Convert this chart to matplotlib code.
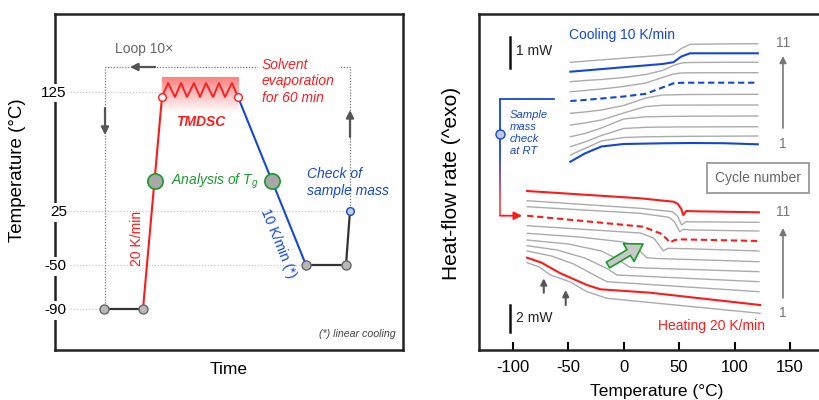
import numpy as np
import matplotlib.pyplot as plt
from matplotlib.collections import LineCollection

plt.rcParams['font.family'] = ['Liberation Sans', 'DejaVu Sans']
plt.rcParams['mathtext.fontset'] = 'custom'
plt.rcParams['mathtext.it'] = 'Liberation Sans:italic'
plt.rcParams['mathtext.rm'] = 'Liberation Sans'
plt.rcParams['axes.unicode_minus'] = False

RED = '#ff1a1a'
BLUE = '#1446dc'
GREEN = '#1a9a2a'
GRAY = '#ababab'
DARK = '#555555'

# ---------------- left panel: temperature programme (schematic units) ----------------
temp_labels = ['125', '25', '-50', '-90']
level_pos = [25.83, 13.9, 8.5, 4.1]
grid_end = [10.7, 29.5, 25.1, 4.9]

hold_low_t = [4.9, 8.8]
hold_low_h = [4.1, 4.1]
heat_t = [8.8, 10.7]
heat_h = [4.1, 25.3]
zig_t = [10.7, 11.3, 12.0, 12.6, 13.2, 13.9, 14.5, 15.1, 15.8, 16.4, 17.0, 17.7, 18.3]
zig_h = [25.3, 26.7, 25.3, 26.7, 25.3, 26.7, 25.3, 26.7, 25.3, 26.7, 25.3, 26.7, 25.3]
cool_t = [18.3, 25.1]
cool_h = [25.3, 8.5]
hold_mid_t = [25.1, 29.1, 29.5]
hold_mid_h = [8.5, 8.5, 13.9]
tg_t = [9.95, 21.7]
tg_h = [16.9, 16.9]
loop_t = [29.5, 29.5, 5.0, 5.0]
loop_h = [13.9, 28.3, 28.3, 4.1]

# ---------------- right panel: DSC curves (arbitrary offset units) ----------------
cool_T = [-48, -35, -20, 0, 20, 35, 45, 52, 60, 90, 121]
cool_curves = [
    [18.83, 19.65, 20.35, 20.6, 20.64, 20.67, 20.68, 20.69, 20.7, 20.68, 20.57],  # 1
    [19.5, 20.15, 20.9, 21.25, 21.32, 21.34, 21.35, 21.36, 21.37, 21.38, 21.4],
    [20.33, 20.8, 21.45, 22.15, 22.27, 22.29, 22.3, 22.31, 22.31, 22.32, 22.33],
    [21.33, 21.65, 22.2, 23.1, 23.32, 23.35, 23.36, 23.37, 23.38, 23.39, 23.4],
    [22.5, 22.7, 23.0, 23.7, 24.35, 24.47, 24.48, 24.49, 24.49, 24.5, 24.5],
    [23.67, 23.8, 24.0, 24.45, 25.2, 25.5, 25.52, 25.54, 25.55, 25.56, 25.57],
    [24.9, 25.0, 25.15, 25.35, 25.62, 26.25, 26.67, 26.72, 26.73, 26.73, 26.73],
    [25.83, 25.95, 26.1, 26.35, 26.7, 27.25, 27.6, 27.7, 27.72, 27.73, 27.73],
    [26.83, 26.95, 27.05, 27.25, 27.55, 27.95, 28.45, 28.7, 28.75, 28.77, 28.77],
    [27.83, 27.95, 28.09, 28.28, 28.46, 28.6, 28.78, 29.35, 29.67, 29.67, 29.67],
    [28.77, 28.88, 29.01, 29.18, 29.35, 29.48, 29.57, 30.15, 30.57, 30.61, 30.63],  # 11
]
cool_colors = [BLUE, GRAY, GRAY, GRAY, GRAY, GRAY, BLUE, GRAY, GRAY, BLUE, GRAY]
cool_dashed = [False, False, False, False, False, False, True, False, False, False, False]

heat_T = [
    [-87, -76, -66, -58, -48, -33, -15, 123],
    [-87, -74, -57, -33, -21, 24, 123],
    [-87, -65, -45, -25, -15, 122],
    [-87, -60, -35, -15, -6, 122],
    [-87, -50, -20, -5, 5.8, 20, 122],
    [-87, -40, 0, 12, 20.8, 30, 122],
    [-87, 15, 27, 32, 35.8, 40, 60, 122],
    [-87, 17.5, 33, 38, 42, 45, 49.3, 122],
    [-87, 15, 41, 46, 50.6, 54, 60, 122],
    [-87, 15, 44, 48.5, 52.4, 56, 60, 122],
    [-87, 15, 45, 49, 52, 53.8, 56.5, 60, 122],
]
heat_curves = [
    [8.73, 8.3, 7.5, 7.2, 6.8, 5.83, 5.17, 3.67],
    [9.23, 8.73, 7.67, 6.5, 6.07, 5.73, 4.5],
    [9.9, 9.4, 8.6, 7.4, 6.83, 5.83],
    [10.43, 10.0, 9.2, 8.15, 7.5, 6.83],
    [11.0, 10.6, 9.9, 9.05, 8.27, 8.2, 7.83],
    [11.67, 11.3, 10.8, 10.2, 9.23, 9.15, 8.83],
    [12.43, 11.7, 11.2, 10.5, 9.9, 10.17, 10.12, 9.9],
    [13.43, 12.33, 11.67, 11.2, 10.73, 10.95, 11.07, 10.9],
    [14.33, 13.67, 13.27, 12.8, 11.83, 12.07, 12.0, 11.9],
    [14.93, 14.17, 13.83, 13.4, 12.5, 12.83, 12.82, 12.77],
    [15.9, 15.17, 14.83, 14.6, 14.1, 13.5, 13.9, 13.88, 13.77],
]
heat_colors = [GRAY, RED, GRAY, GRAY, GRAY, GRAY, GRAY, RED, GRAY, GRAY, RED]
heat_dashed = [False, False, False, False, False, False, False, True, False, False, False]

fig = plt.figure(figsize=(8.2, 4.0), dpi=100)

# ================= left panel =================
ax = fig.add_axes([55 / 820, 50 / 400, 348 / 820, 336 / 400])
ax.set_xlim(0, 34.8)
ax.set_ylim(0, 33.6)

for s in ax.spines.values():
    s.set_linewidth(1.8)
    s.set_color('#222222')
    s.set_zorder(1)

ax.set_xticks([])
ax.set_yticks(level_pos, temp_labels)
ax.tick_params(axis='y', length=0, pad=-8.5, labelsize=11)
for lab in ax.get_yticklabels():
    lab.set_bbox(dict(facecolor='white', edgecolor='none', pad=1.5))

for y, xe in zip(level_pos, grid_end):
    ax.plot([1.5, xe], [y, y], color='#c8c8c8', lw=0.9, ls=(0, (1, 1.5)), zorder=1.5)

# gradient block behind the modulation
grad = np.zeros((60, 1, 4))
grad[..., 0] = 1.0
grad[..., 1] = 0.42
grad[..., 2] = 0.42
grad[:, 0, 3] = np.linspace(0.85, 0.0, 60)
ax.imshow(grad, extent=[10.7, 18.4, 23.7, 27.3], aspect='auto', origin='upper', zorder=1.6)

# loop path
ax.plot(loop_t, loop_h, color='#777777', lw=0.9, ls=(0, (1, 1.3)), zorder=1.7)
arrow_kw = dict(arrowstyle='-|>', color=DARK, lw=1.6, mutation_scale=11, shrinkA=0, shrinkB=0)
ax.annotate('', xy=(7.5, 28.3), xytext=(10.0, 28.3), arrowprops=arrow_kw)
ax.annotate('', xy=(5.0, 21.5), xytext=(5.0, 24.2), arrowprops=arrow_kw)
ax.annotate('', xy=(29.5, 24.0), xytext=(29.5, 21.3), arrowprops=arrow_kw)

# temperature programme
ax.plot(hold_low_t, hold_low_h, color='#333333', lw=1.6, zorder=3)
ax.plot(heat_t, heat_h, color=RED, lw=1.5, zorder=3)
ax.plot(zig_t, zig_h, color=RED, lw=1.3, zorder=3)
ax.plot(cool_t, cool_h, color=BLUE, lw=1.5, zorder=3)
ax.plot(hold_mid_t, hold_mid_h, color='#333333', lw=1.6, zorder=3)

ax.plot(hold_low_t, hold_low_h, 'o', ms=6.5, mfc='#b8b8b8', mec='#666666', mew=1, zorder=4)
ax.plot(hold_mid_t[:2], hold_mid_h[:2], 'o', ms=6.5, mfc='#b8b8b8', mec='#666666', mew=1, zorder=4)
ax.plot([zig_t[0], zig_t[-1]], [zig_h[0], zig_h[-1]], 'o', ms=5.5, mfc='white', mec=RED, mew=1, zorder=4)
ax.plot(tg_t, tg_h, 'o', ms=11, mfc='#a8a8a8', mec=GREEN, mew=1.2, zorder=4)
ax.plot(hold_mid_t[2], hold_mid_h[2], 'o', ms=5.5, mfc='#c4d0ec', mec=BLUE, mew=1, zorder=4)

ax.text(6.0, 30.1, 'Loop 10×', color='#666666', fontsize=10, va='center')
ax.text(20.7, 26.85, 'Solvent\nevaporation\nfor 60 min', color=RED, fontsize=10,
        style='italic', va='center', linespacing=1.25,
        bbox=dict(facecolor='white', edgecolor='none', pad=3))
ax.text(14.6, 22.8, 'TMDSC', color=RED, fontsize=10, style='italic', weight='bold',
        ha='center', va='center')
ax.text(11.6, 16.9, 'Analysis of $T_g$', color=GREEN, fontsize=10, style='italic', va='center')
ax.text(25.2, 16.75, 'Check of\nsample mass', color=BLUE, fontsize=10, style='italic',
        va='center', linespacing=1.2)
ax.text(8.2, 11.2, '20 K/min', color=RED, fontsize=10, rotation=90, ha='center', va='center')
ax.text(22.3, 10.7, '10 K/min (*)', color=BLUE, fontsize=10, rotation=-68,
        ha='center', va='center', rotation_mode='anchor')
ax.text(34.1, 1.6, '(*) linear cooling', color='#444444', fontsize=7.7, style='italic',
        ha='right', va='center')

ax.set_xlabel('Time', fontsize=12.5)
ax.xaxis.set_label_coords(0.5, -0.035)
ax.set_ylabel('Temperature (°C)', fontsize=13.5)
ax.yaxis.set_label_coords(-0.083, 0.534)

# ================= right panel =================
bx = fig.add_axes([479 / 820, 50 / 400, 341 / 820, 336 / 400])
bx.set_xlim(-130.4, 177.1)
bx.set_ylim(0, 33.6)
for s in bx.spines.values():
    s.set_linewidth(1.8)
    s.set_color('#222222')
bx.spines['right'].set_visible(False)
bx.set_yticks([])
bx.set_xticks([-100, -50, 0, 50, 100, 150])
bx.tick_params(axis='x', direction='in', length=6, width=1.5, pad=7, labelsize=12)

for vals, c, d in zip(cool_curves, cool_colors, cool_dashed):
    lw = 1.0 if c == GRAY else 1.5
    ls = (0, (3, 1.8)) if d else '-'
    bx.plot(cool_T, vals, color=c, lw=lw, ls=ls, zorder=3 if c != GRAY else 2)

for tt, vals, c, d in zip(heat_T, heat_curves, heat_colors, heat_dashed):
    lw = 1.0 if c == GRAY else 1.5
    ls = (0, (3, 1.8)) if d else '-'
    bx.plot(tt, vals, color=c, lw=lw, ls=ls, zorder=3 if c != GRAY else 2)

# scale bars
bx.plot([-102.4, -102.4], [28.2, 31.3], color='#111111', lw=1.8)
bx.text(-97, 29.9, '1 mW', fontsize=10, va='center', color='#222222')
bx.plot([-102.4, -102.4], [1.8, 4.5], color='#111111', lw=1.8)
bx.text(-97, 3.2, '2 mW', fontsize=10, va='center', color='#222222')

bx.text(-49.2, 31.5, 'Cooling 10 K/min', color=BLUE, fontsize=10, va='center')
bx.text(127.5, 2.4, 'Heating 20 K/min', color=RED, fontsize=10, va='center', ha='right')

# cycle-number arrows
cyc_kw = dict(arrowstyle='-|>', color='#777777', lw=1.2, mutation_scale=10, shrinkA=0, shrinkB=0)
bx.annotate('', xy=(143.7, 29.4), xytext=(143.7, 22.2), arrowprops=cyc_kw)
bx.annotate('', xy=(143.7, 12.2), xytext=(143.7, 5.2), arrowprops=cyc_kw)
for y, s in [(30.7, '11'), (20.6, '1'), (13.83, '11'), (3.73, '1')]:
    bx.text(143.7, y, s, color='#777777', fontsize=10, ha='center', va='center')

bx.text(121.1, 17.2, 'Cycle number', color='#666666', fontsize=10, ha='center', va='center',
        bbox=dict(boxstyle='square,pad=0.55', fc='white', ec='#9a9a9a', lw=1.3))

# small markers for the two steps of cycle 1
up_kw = dict(arrowstyle='-|>', color=DARK, lw=1.5, mutation_scale=9, shrinkA=0, shrinkB=0)
bx.annotate('', xy=(-72, 7.17), xytext=(-72, 5.73), arrowprops=up_kw)
bx.annotate('', xy=(-52.2, 6.0), xytext=(-52.2, 4.5), arrowprops=up_kw)

# green arrow
bx.annotate('', xy=(17.5, 10.6), xytext=(-14.1, 8.5),
            arrowprops=dict(arrowstyle='simple,head_length=0.8,head_width=1.0,tail_width=0.32',
                            mutation_scale=15, fc='#c8c8c8', ec=GREEN, lw=1.2,
                            shrinkA=0, shrinkB=0), zorder=5)

# sample mass check bracket
bx.plot([-111.5, -62.8], [25.1, 25.1], color=BLUE, lw=1.3)
ys = np.linspace(25.1, 13.43, 40)
segs = [[(-111.5, ys[i]), (-111.5, ys[i + 1])] for i in range(len(ys) - 1)]
frac = np.clip((25.1 - ys[:-1] - 5.5) / 4.5, 0, 1)
blue_rgb = np.array([0.08, 0.27, 0.86])
red_rgb = np.array([1.0, 0.3, 0.3])
cols = [tuple(blue_rgb * (1 - f) + red_rgb * f) for f in frac]
bx.add_collection(LineCollection(segs, colors=cols, linewidths=1.3))
bx.annotate('', xy=(-91.6, 13.43), xytext=(-111.5, 13.43),
            arrowprops=dict(arrowstyle='-|>', color=RED, lw=1.3, mutation_scale=12,
                            shrinkA=0, shrinkB=0))
bx.plot(-111.5, 21.6, 'o', ms=6.5, mfc='#c0c8dc', mec=BLUE, mew=1, zorder=4)
bx.text(-102.4, 21.65, 'Sample\nmass\ncheck\nat RT', color=BLUE, fontsize=8.1, style='italic',
        va='center', linespacing=1.25)

bx.set_xlabel('Temperature (°C)', fontsize=12.5)
bx.xaxis.set_label_coords(0.522, -0.1)
bx.set_ylabel('Heat-flow rate (^exo)', fontsize=15)
bx.yaxis.set_label_coords(-0.053, 0.496)

fig.savefig('out.png', dpi=100)
